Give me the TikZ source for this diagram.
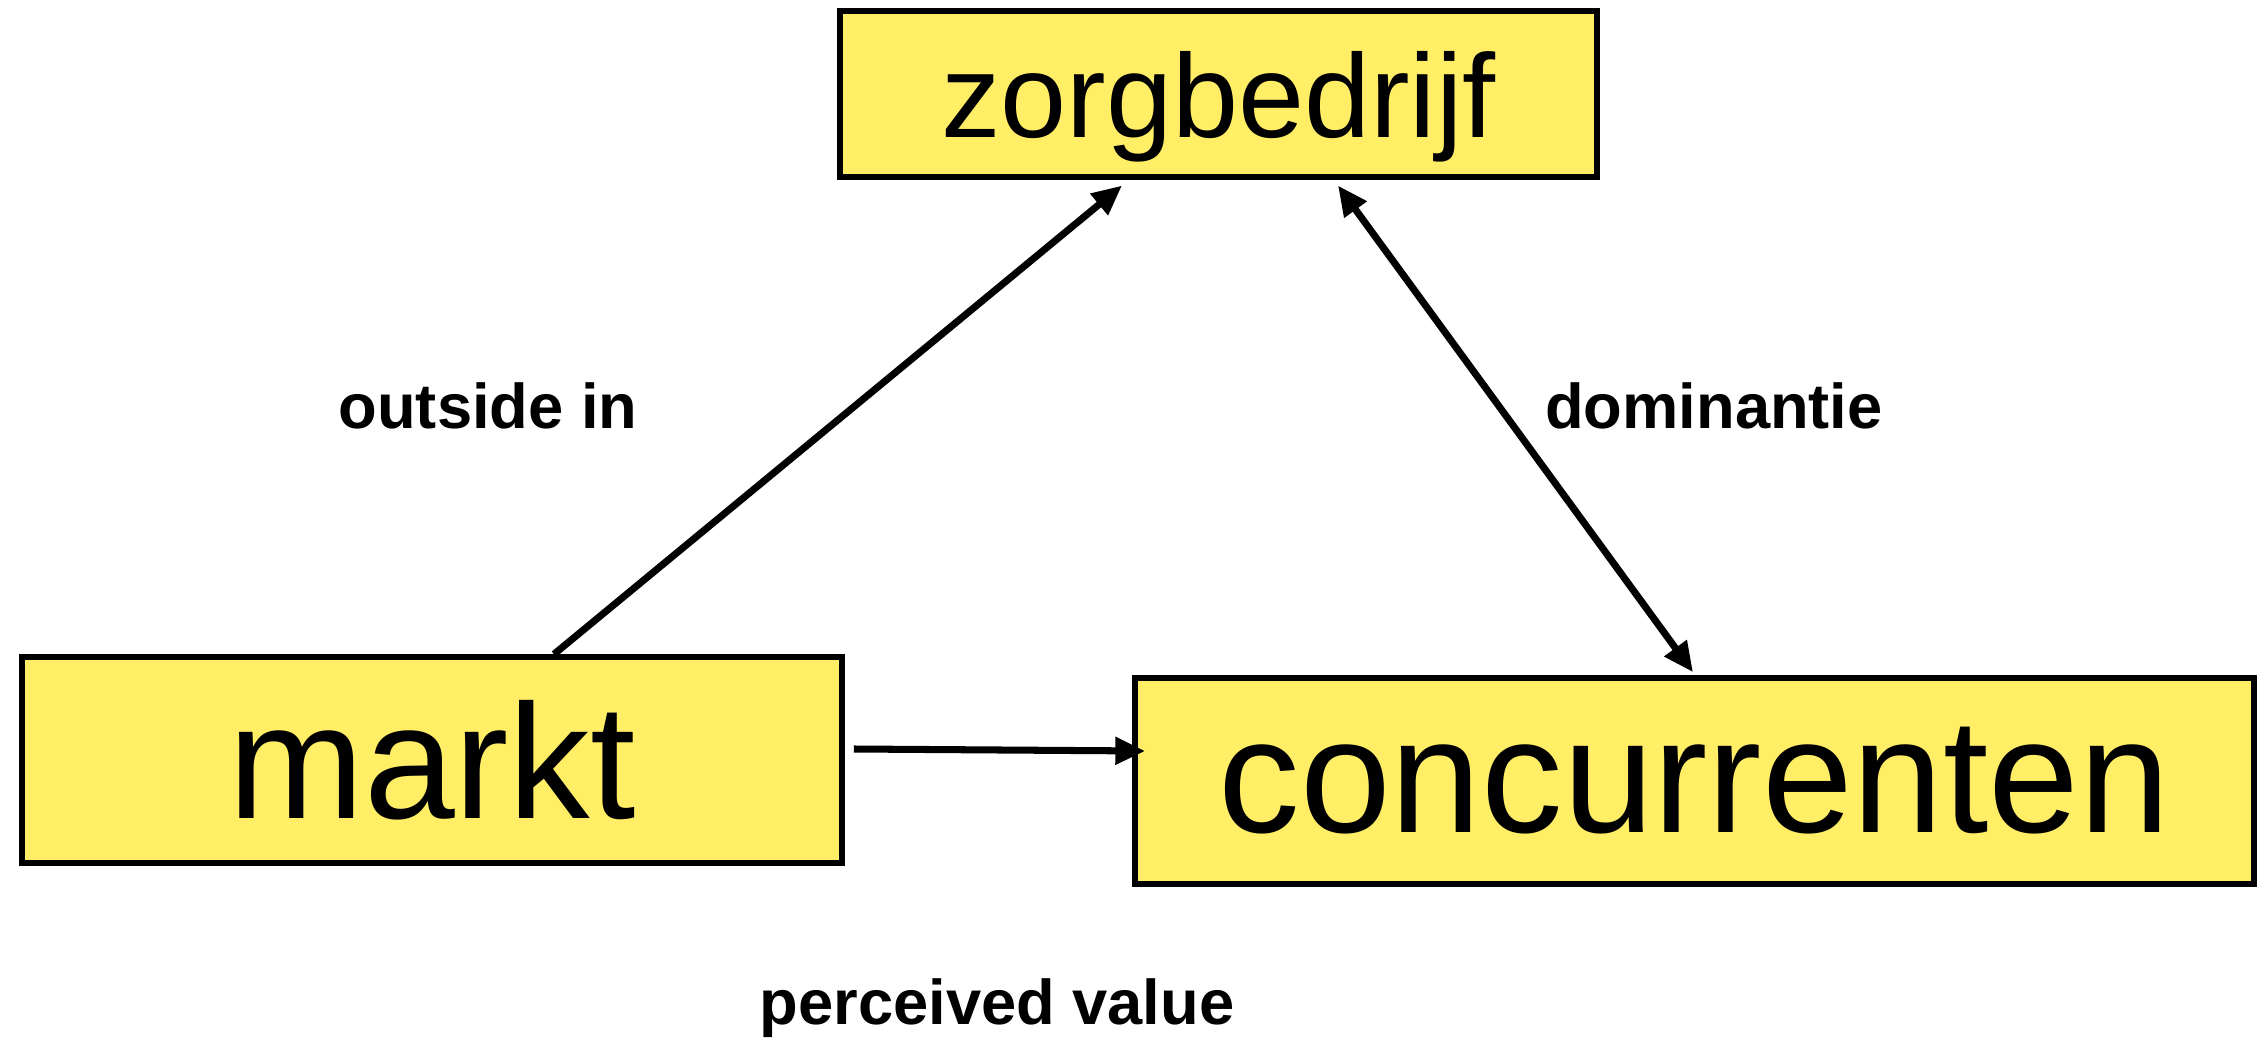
\documentclass[tikz,border=0pt]{standalone}
\usepackage{fontspec}
\setmainfont{Liberation Sans}
\usetikzlibrary{arrows.meta}
\definecolor{boxfill}{HTML}{FFEE66}
\tikzset{
  box/.style={draw=black, fill=boxfill, line width=1.6pt, rectangle, inner sep=0pt},
  arr/.style={line width=2pt, -{Triangle[length=8.5pt,width=7.5pt]}},
  darr/.style={line width=2pt, {Triangle[length=8.5pt,width=7.5pt]}-{Triangle[length=8.5pt,width=7.5pt]}},
  lbl/.style={font=\fontsize{18}{20}\selectfont\bfseries, anchor=base, inner sep=0pt},
}
\begin{document}
\begin{tikzpicture}[x=0.1mm, y=-0.1mm]
\useasboundingbox (0,0) rectangle (2258,1039);

% boxes
\node[box, minimum width=75.7mm, minimum height=16.55mm, text depth=0pt,
      font=\fontsize{33.8}{36}\selectfont] (zb) at (1218.5,94) {zorgbedrijf};
\node[box, minimum width=82mm, minimum height=20.6mm,
      font=\fontsize{46.4}{50}\selectfont] (mk) at (432,760) {markt};
\node[box, minimum width=111.9mm, minimum height=20.6mm,
      font=\fontsize{46.4}{50}\selectfont] (cc) at (1694.5,781) {concurrenten};

% connectors
\draw[arr] ([xshift=12.2mm]mk.north) -- ([xshift=-9.65mm,yshift=-0.6mm]zb.south);
\draw[darr] ([xshift=11.95mm,yshift=-0.6mm]zb.south) -- ([xshift=-0.15mm,yshift=0.3mm]cc.north);
\draw[arr] ([xshift=0.9mm,yshift=1.1mm]mk.east) -- ([xshift=1.3mm,yshift=3.0mm]cc.west);

% labels
\node[lbl] (l1) at (488,429) {outside in};
\node[lbl] (l2) at (1714,429) {dominantie};
\node[lbl] (l3) at (997,1024) {perceived value};
\end{tikzpicture}
\end{document}
